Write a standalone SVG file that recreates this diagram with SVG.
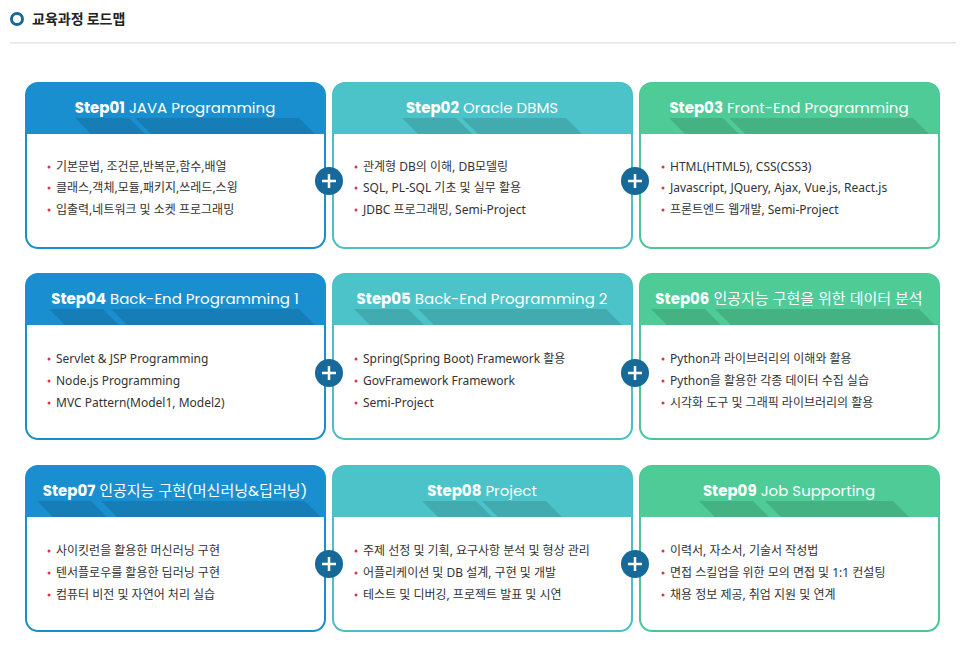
<svg xmlns="http://www.w3.org/2000/svg" width="966" height="660" viewBox="0 0 966 660">
<style>
.h{font-family:Poppins,"Open Sans","Noto Sans","Noto Sans CJK KR",sans-serif;font-size:15px;fill:#fff}
.b{font-weight:700}
.t{font-family:"Noto Sans","Noto Sans CJK KR",sans-serif;font-size:12px;fill:#333}
.d{fill:#e0304a}
.c1{stroke:#1a8fd0}.c2{stroke:#4bbfc4}.c3{stroke:#4cc693}
.f1{fill:#1a8fd0}.f2{fill:#4bc3c8}.f3{fill:#4ecb96}
.s{fill:#000;opacity:.12}
</style>
<defs>
<clipPath id="k"><rect x="0" y="0" width="301" height="52"/></clipPath>
<g id="card">
<rect x="1" y="1" width="299" height="165" rx="12" fill="#fff" stroke-width="2"/>
</g>
<g id="plus"><circle r="14" fill="#17699a"/><path d="M-7 0H7M0 -7V7" stroke="#fff" stroke-width="2.5"/></g>
</defs>
<circle cx="17" cy="19" r="5.5" fill="none" stroke="#17699a" stroke-width="3"/>
<text x="32" y="24" font-family="'Noto Sans CJK KR',sans-serif" font-size="14" font-weight="700" fill="#222">교육과정 로드맵</text>
<rect x="10" y="42" width="946" height="1.5" fill="#e6e6e6"/>
<g id="cards">
<g id="s1" transform="translate(25,82)">
<rect x="1" y="1" width="299" height="165" rx="12" fill="#fff" class="c1" stroke-width="2"/>
<path d="M1 52V13A12 12 0 0 1 13 1H288A12 12 0 0 1 300 13V52Z" class="f1"/>
<g clip-path="url(#k)"><path d="M50 36L66 52H120L104 36ZM110 36L126 52H290L274 36Z" class="s"/></g>
<text x="150" y="31" text-anchor="middle" class="h"><tspan class="b">Step01</tspan>   JAVA Programming</text>
<circle cx="24" cy="85" r="1.5" class="d"/><text x="31" y="89" class="t">기본문법, 조건문,반복문,함수,배열</text>
<circle cx="24" cy="106" r="1.5" class="d"/><text x="31" y="110" class="t">클래스,객체,모듈,패키지,쓰레드,스윙</text>
<circle cx="24" cy="128" r="1.5" class="d"/><text x="31" y="132" class="t">입출력,네트워크 및 소켓 프로그래밍</text>
</g>
<g id="s2" transform="translate(332,82)">
<rect x="1" y="1" width="299" height="165" rx="12" fill="#fff" class="c2" stroke-width="2"/>
<path d="M1 52V13A12 12 0 0 1 13 1H288A12 12 0 0 1 300 13V52Z" class="f2"/>
<g clip-path="url(#k)"><path d="M70 36L86 52H140L124 36ZM130 36L146 52H250L234 36Z" class="s"/></g>
<text x="150" y="31" text-anchor="middle" class="h"><tspan class="b">Step02</tspan>   Oracle DBMS</text>
<circle cx="24" cy="85" r="1.5" class="d"/><text x="31" y="89" class="t">관계형 DB의 이해, DB모델링</text>
<circle cx="24" cy="106" r="1.5" class="d"/><text x="31" y="110" class="t">SQL, PL-SQL 기초 및 실무 활용</text>
<circle cx="24" cy="128" r="1.5" class="d"/><text x="31" y="132" class="t">JDBC 프로그래밍, Semi-Project</text>
</g>
<g id="s3" transform="translate(639,82)">
<rect x="1" y="1" width="299" height="165" rx="12" fill="#fff" class="c3" stroke-width="2"/>
<path d="M1 52V13A12 12 0 0 1 13 1H288A12 12 0 0 1 300 13V52Z" class="f3"/>
<g clip-path="url(#k)"><path d="M30 36L46 52H100L84 36ZM90 36L106 52H290L274 36Z" class="s"/></g>
<text x="150" y="31" text-anchor="middle" class="h"><tspan class="b">Step03</tspan>   Front-End Programming</text>
<circle cx="24" cy="85" r="1.5" class="d"/><text x="31" y="89" class="t">HTML(HTML5), CSS(CSS3)</text>
<circle cx="24" cy="106" r="1.5" class="d"/><text x="31" y="110" class="t">Javascript, JQuery, Ajax, Vue.js, React.js</text>
<circle cx="24" cy="128" r="1.5" class="d"/><text x="31" y="132" class="t">프론트엔드 웹개발, Semi-Project</text>
</g>
<g id="s4" transform="translate(25,273)">
<rect x="1" y="1" width="299" height="165" rx="12" fill="#fff" class="c1" stroke-width="2"/>
<path d="M1 52V13A12 12 0 0 1 13 1H288A12 12 0 0 1 300 13V52Z" class="f1"/>
<g clip-path="url(#k)"><path d="M24 36L40 52H94L78 36ZM86 36L102 52H290L274 36Z" class="s"/></g>
<text x="150" y="31" text-anchor="middle" class="h"><tspan class="b">Step04</tspan>   Back-End Programming 1</text>
<circle cx="24" cy="86" r="1.5" class="d"/><text x="31" y="90" class="t">Servlet &amp; JSP Programming</text>
<circle cx="24" cy="108" r="1.5" class="d"/><text x="31" y="112" class="t">Node.js Programming</text>
<circle cx="24" cy="130" r="1.5" class="d"/><text x="31" y="134" class="t">MVC Pattern(Model1, Model2)</text>
</g>
<g id="s5" transform="translate(332,273)">
<rect x="1" y="1" width="299" height="165" rx="12" fill="#fff" class="c2" stroke-width="2"/>
<path d="M1 52V13A12 12 0 0 1 13 1H288A12 12 0 0 1 300 13V52Z" class="f2"/>
<g clip-path="url(#k)"><path d="M22 36L38 52H92L76 36ZM86 36L102 52H290L274 36Z" class="s"/></g>
<text x="150" y="31" text-anchor="middle" class="h"><tspan class="b">Step05</tspan>   Back-End Programming 2</text>
<circle cx="24" cy="86" r="1.5" class="d"/><text x="31" y="90" class="t">Spring(Spring Boot) Framework 활용</text>
<circle cx="24" cy="108" r="1.5" class="d"/><text x="31" y="112" class="t">GovFramework Framework</text>
<circle cx="24" cy="130" r="1.5" class="d"/><text x="31" y="134" class="t">Semi-Project</text>
</g>
<g id="s6" transform="translate(639,273)">
<rect x="1" y="1" width="299" height="165" rx="12" fill="#fff" class="c3" stroke-width="2"/>
<path d="M1 52V13A12 12 0 0 1 13 1H288A12 12 0 0 1 300 13V52Z" class="f3"/>
<g clip-path="url(#k)"><path d="M12 36L28 52H82L66 36ZM76 36L92 52H296L280 36Z" class="s"/></g>
<text x="150" y="31" text-anchor="middle" class="h"><tspan class="b">Step06</tspan>   인공지능 구현을 위한 데이터 분석</text>
<circle cx="24" cy="86" r="1.5" class="d"/><text x="31" y="90" class="t">Python과 라이브러리의 이해와 활용</text>
<circle cx="24" cy="108" r="1.5" class="d"/><text x="31" y="112" class="t">Python을 활용한 각종 데이터 수집 실습</text>
<circle cx="24" cy="130" r="1.5" class="d"/><text x="31" y="134" class="t">시각화 도구 및 그래픽 라이브러리의 활용</text>
</g>
<g id="s7" transform="translate(25,465)">
<rect x="1" y="1" width="299" height="165" rx="12" fill="#fff" class="c1" stroke-width="2"/>
<path d="M1 52V13A12 12 0 0 1 13 1H288A12 12 0 0 1 300 13V52Z" class="f1"/>
<g clip-path="url(#k)"><path d="M12 36L28 52H82L66 36ZM76 36L92 52H296L280 36Z" class="s"/></g>
<text x="150" y="31" text-anchor="middle" class="h"><tspan class="b">Step07</tspan>   인공지능 구현(머신러닝&amp;딥러닝)</text>
<circle cx="24" cy="86" r="1.5" class="d"/><text x="31" y="90" class="t">사이킷런을 활용한 머신러닝 구현</text>
<circle cx="24" cy="108" r="1.5" class="d"/><text x="31" y="112" class="t">텐서플로우를 활용한 딥러닝 구현</text>
<circle cx="24" cy="130" r="1.5" class="d"/><text x="31" y="134" class="t">컴퓨터 비전 및 자연어 처리 실습</text>
</g>
<g id="s8" transform="translate(332,465)">
<rect x="1" y="1" width="299" height="165" rx="12" fill="#fff" class="c2" stroke-width="2"/>
<path d="M1 52V13A12 12 0 0 1 13 1H288A12 12 0 0 1 300 13V52Z" class="f2"/>
<g clip-path="url(#k)"><path d="M90 36L106 52H160L144 36ZM150 36L166 52H230L214 36Z" class="s"/></g>
<text x="150" y="31" text-anchor="middle" class="h"><tspan class="b">Step08</tspan>   Project</text>
<circle cx="24" cy="86" r="1.5" class="d"/><text x="31" y="90" class="t">주제 선정 및 기획, 요구사항 분석 및 형상 관리</text>
<circle cx="24" cy="108" r="1.5" class="d"/><text x="31" y="112" class="t">어플리케이션 및 DB 설계, 구현 및 개발</text>
<circle cx="24" cy="130" r="1.5" class="d"/><text x="31" y="134" class="t">테스트 및 디버깅, 프로젝트 발표 및 시연</text>
</g>
<g id="s9" transform="translate(639,465)">
<rect x="1" y="1" width="299" height="165" rx="12" fill="#fff" class="c3" stroke-width="2"/>
<path d="M1 52V13A12 12 0 0 1 13 1H288A12 12 0 0 1 300 13V52Z" class="f3"/>
<g clip-path="url(#k)"><path d="M60 36L76 52H130L114 36ZM126 36L142 52H270L254 36Z" class="s"/></g>
<text x="150" y="31" text-anchor="middle" class="h"><tspan class="b">Step09</tspan>   Job Supporting</text>
<circle cx="24" cy="86" r="1.5" class="d"/><text x="31" y="90" class="t">이력서, 자소서, 기술서 작성법</text>
<circle cx="24" cy="108" r="1.5" class="d"/><text x="31" y="112" class="t">면접 스킬업을 위한 모의 면접 및 1:1 컨설팅</text>
<circle cx="24" cy="130" r="1.5" class="d"/><text x="31" y="134" class="t">채용 정보 제공, 취업 지원 및 연계</text>
</g>
</g>
<g id="connectors">
<use href="#plus" x="329" y="181"/><use href="#plus" x="635" y="181"/>
<use href="#plus" x="329" y="373"/><use href="#plus" x="635" y="373"/>
<use href="#plus" x="329" y="564"/><use href="#plus" x="635" y="564"/>
</g>
</svg>
